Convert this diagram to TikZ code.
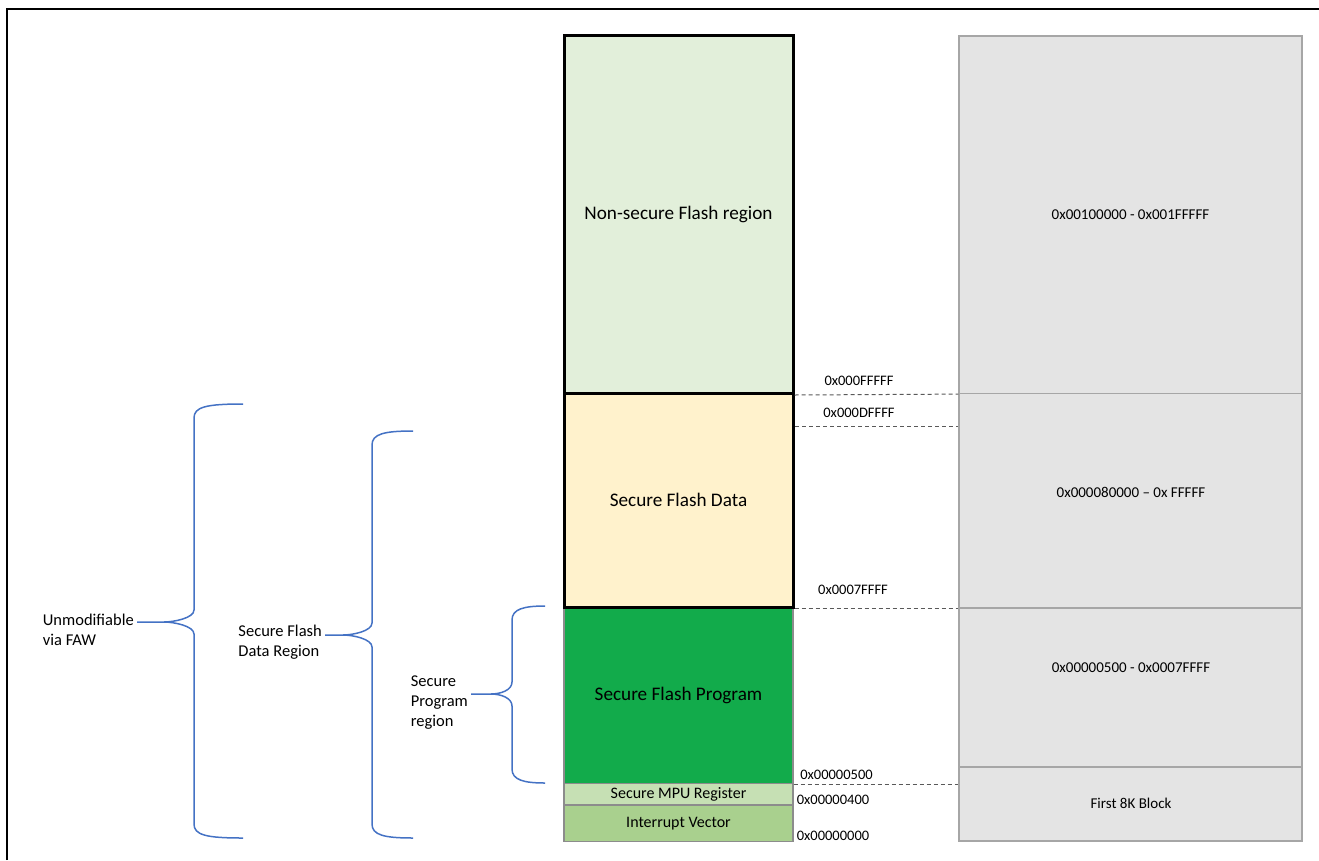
\documentclass[tikz,border=0pt]{standalone}
\usepackage{fontspec}
\setmainfont{Carlito}
\definecolor{nsfill}{HTML}{E2EFDA}
\definecolor{sdfill}{HTML}{FFF2CC}
\definecolor{spfill}{HTML}{12AB4B}
\definecolor{mpufill}{HTML}{C6E0B4}
\definecolor{ivfill}{HTML}{A9D08E}
\definecolor{blkfill}{HTML}{E4E4E4}
\definecolor{blkline}{HTML}{A6A6A6}
\definecolor{cellline}{HTML}{8C8C8C}
\definecolor{bracecol}{HTML}{4472C4}
\definecolor{dashcol}{HTML}{595959}
\begin{document}
\begin{tikzpicture}[x=1pt,y=-1pt,
  cell/.style={draw=cellline,line width=1.2pt,minimum width=229pt,inner sep=0pt},
  bigcell/.style={draw=black,line width=3pt,minimum width=229pt,inner sep=0pt,font=\fontsize{19.2}{23}\selectfont},
  block/.style={draw=blkline,fill=blkfill,line width=1.2pt,minimum width=343pt,inner sep=0pt},
  blocktext/.style={font=\fontsize{15}{17}\selectfont},
  addr/.style={font=\fontsize{14.5}{16}\selectfont,inner sep=0pt},
  side/.style={font=\fontsize{16.5}{20}\selectfont,align=left,inner sep=3pt,anchor=east},
  memdash/.style={draw=dashcol,line width=1pt,dash pattern=on 4pt off 3pt},
  bracket/.style={draw=bracecol,line width=1.5pt}]
\useasboundingbox (0,0) rectangle (1319,860);
\draw [line width=2pt] (7,860) -- (7,9) -- (1319,9);
\node[block,minimum height=357.5pt] (B1) at (1130.5,214.75) {};
\node[block,minimum height=214.5pt] (B2) at (1130.5,500.75) {};
\node[block,minimum height=159pt] (B3) at (1130.5,687.5) {};
\node[block,minimum height=74pt] (B4) at (1130.5,804) {};
\node[blocktext] (T1) at (1130.5,215) {0x00100000 - 0x001FFFFF};
\node[blocktext] (T2) at (1131,492) {0x000080000 – 0x FFFFF};
\node[blocktext] (T3) at (1131,668) {0x00000500 - 0x0007FFFF};
\node[blocktext] (T4) at (1131,803) {First 8K Block};
\node[cell,fill=spfill,minimum height=176.5pt,font=\fontsize{19.2}{23}\selectfont] (SP) at (678.5,695.25) {Secure Flash Program};
\node[cell,fill=mpufill,minimum height=21.5pt,font=\fontsize{16}{18}\selectfont] (MPU) at (678.5,794.25) {Secure MPU Register};
\node[cell,fill=ivfill,minimum height=36.5pt,font=\fontsize{16}{18}\selectfont] (IV) at (678.5,823.25) {Interrupt Vector};
\node[bigcell,fill=sdfill,minimum height=213.5pt] (SD) at (678.5,500.25) {Secure Flash Data};
\node[bigcell,fill=nsfill,minimum height=358pt] (NS) at (678.5,214.5) {Non-secure Flash region};
\coordinate (DF) at (795,426);
\draw [memdash] (NS.south east) -- (B1.south west);
\draw [memdash] (DF) -- (DF -| B2.west);
\draw [memdash] (SD.south east) -- (SD.south east -| B3.west);
\draw [memdash] (SP.south east) -- (SP.south east -| B4.west);
\node[addr] (A1) at (859,381) {0x000FFFFF};
\node[addr] (A2) at (859,413) {0x000DFFFF};
\node[addr] (A3) at (853,590) {0x0007FFFF};
\node[addr] (A4) at (836.5,775) {0x00000500};
\node[addr] (A5) at (833,800) {0x00000400};
\node[addr] (A6) at (833,835.5) {0x00000000};
\node[side] (L1) at (137,630) {Unmodifiable\\via FAW};
\node[side] (L2) at (325,642) {Secure Flash\\Data Region};
\node[side] (L3) at (471,703) {Secure\\Program\\region};
\foreach \sx/\yt/\yb/\ym/\arm/\dp/\lab in {194/404/838/622/49/30/L1,372/431/838/635/41/29/L2,512/606/783/694/33/21/L3}
{
  \coordinate (tip) at (\sx-\dp,\ym);
  \draw [bracket] (\sx+\arm,\yt) .. controls (\sx+12,\yt) and (\sx,\yt+3) .. (\sx,\yt+14) -- (\sx,\ym-12) .. controls (\sx,\ym-4) and (\sx-\dp+10,\ym) .. (tip) -- (tip -| \lab.east);
  \draw [bracket] (tip) .. controls (\sx-\dp+10,\ym) and (\sx,\ym+4) .. (\sx,\ym+12) -- (\sx,\yb-14) .. controls (\sx,\yb-3) and (\sx+12,\yb) .. (\sx+\arm,\yb);
}
\end{tikzpicture}
\end{document}
